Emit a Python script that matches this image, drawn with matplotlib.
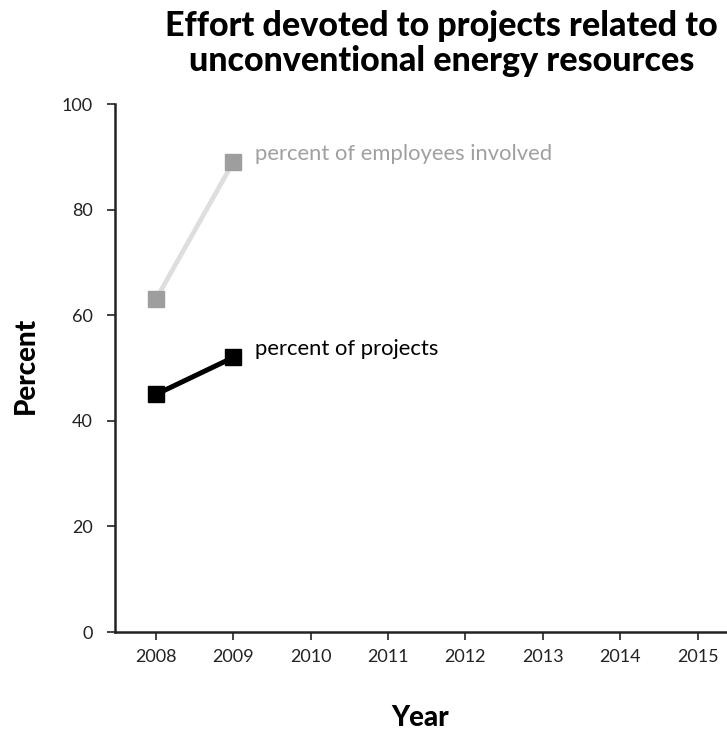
import matplotlib
matplotlib.use("Agg")
import matplotlib.pyplot as plt

plt.rcParams['font.family'] = ['Lato', 'DejaVu Sans']

years = [2008, 2009]
employees_pct = [63, 89]
projects_pct = [45, 52]
xticks = [2008, 2009, 2010, 2011, 2012, 2013, 2014, 2015]
yticks = [0, 20, 40, 60, 80, 100]

fig = plt.figure(figsize=(7.27, 7.31), dpi=100)
ax = fig.add_axes([0.158, 0.1354, 0.842, 0.7223])

ax.plot(years, employees_pct, color='#dedede', lw=3.4, zorder=2)
ax.plot(years, employees_pct, ls='none', marker='s', ms=11, color='#9e9e9e', zorder=3)
ax.plot(years, projects_pct, color='black', lw=3.6, marker='s', ms=11, zorder=3)

ax.annotate('percent of employees involved', (years[-1], employees_pct[-1]),
            xytext=(16, 6), textcoords='offset points', va='center', ha='left',
            color='#a0a0a0', fontsize=15.8)
ax.annotate('percent of projects', (years[-1], projects_pct[-1]),
            xytext=(16, 6), textcoords='offset points', va='center', ha='left',
            color='black', fontsize=15.8)

ax.set_xlim(2007.47, 2015.38)
ax.set_ylim(0, 100)
ax.set_xticks(xticks)
ax.set_yticks(yticks)
ax.tick_params(axis='both', direction='out', length=6, width=1.2, labelsize=13,
               colors='#222222', pad=6)
ax.tick_params(axis='y', pad=10)
for s in ['top', 'right']:
    ax.spines[s].set_visible(False)
for s in ['left', 'bottom']:
    ax.spines[s].set_linewidth(1.8)
    ax.spines[s].set_color('#222222')

fig.text(0.607, 0.94, 'Effort devoted to projects related to\nunconventional energy resources',
         ha='center', va='center', fontsize=24.5, fontweight='black', linespacing=1.12)
fig.text(0.035, 0.5, 'Percent', rotation=90, ha='center', va='center',
         fontsize=20, fontweight='black')
fig.text(0.578, 0.018, 'Year', ha='center', va='center', fontsize=20, fontweight='black')

fig.savefig('out.png', dpi=100)
